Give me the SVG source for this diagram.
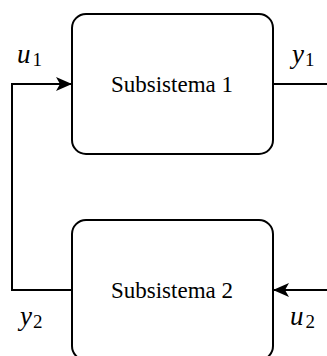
<svg xmlns="http://www.w3.org/2000/svg" width="327" height="356" viewBox="0 0 327 356">
<style>
.box{fill:#fff;stroke:#000;stroke-width:2}
.wire{fill:none;stroke:#000;stroke-width:2}
.lbl{font-family:'Liberation Serif','Times New Roman','DejaVu Serif',serif;font-size:23px;fill:#000}
.var{font-family:'Liberation Serif','Times New Roman','DejaVu Serif',serif;font-size:27px;font-style:italic;fill:#000}
.sub{font-style:normal;font-size:19px}
</style>
<defs>
<marker id="arr" viewBox="0 0 16 14" refX="16" refY="7" markerWidth="16" markerHeight="14" markerUnits="userSpaceOnUse" orient="auto">
<path d="M0,0 L16,7 L0,14 L4,7 Z" fill="#000"/>
</marker>
</defs>
<g id="connectors">
<path class="wire" d="M72,290 H12 V84 H72" marker-end="url(#arr)"/>
<path class="wire" d="M273,84 H330"/>
<path class="wire" d="M330,290 H273" marker-end="url(#arr)"/>
</g>
<g id="subsistema1">
<rect class="box" x="72" y="14" width="201" height="140" rx="14"/>
<text class="lbl" x="172" y="92" text-anchor="middle">Subsistema 1</text>
</g>
<g id="subsistema2">
<rect class="box" x="72" y="220" width="201" height="140" rx="14"/>
<text class="lbl" x="172" y="298" text-anchor="middle">Subsistema 2</text>
</g>
<g id="labels">
<text class="var" x="17" y="63">u<tspan class="sub" dx="2" dy="3">1</tspan></text>
<text class="var" x="292" y="63">y<tspan class="sub" dx="1" dy="3">1</tspan></text>
<text class="var" x="20" y="325">y<tspan class="sub" dx="1" dy="3">2</tspan></text>
<text class="var" x="290" y="325">u<tspan class="sub" dx="2" dy="3">2</tspan></text>
</g>
</svg>
